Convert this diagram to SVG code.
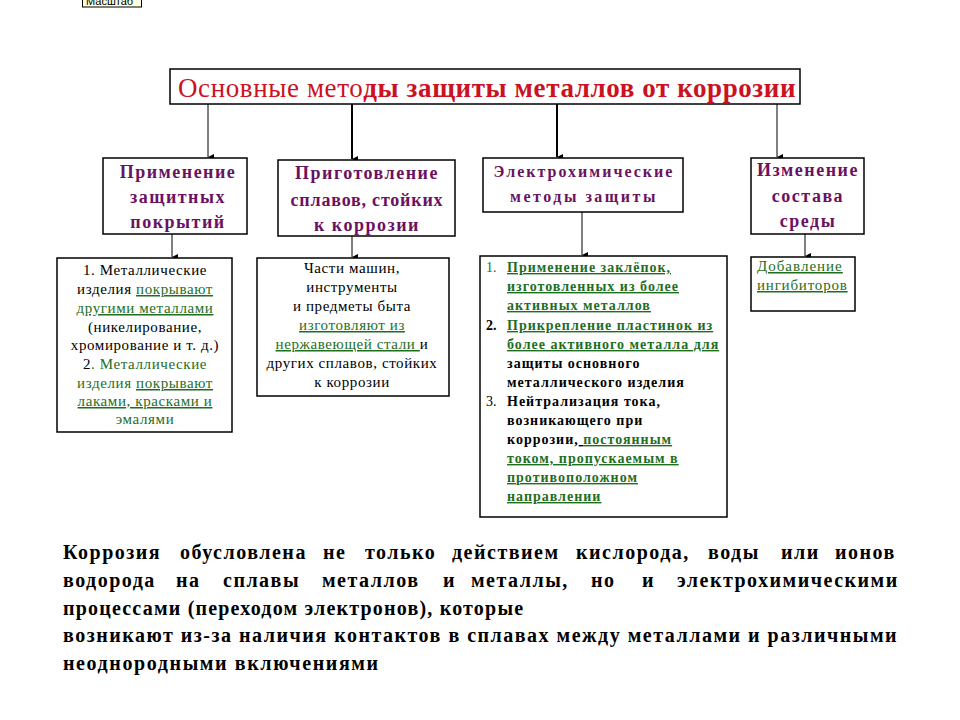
<svg xmlns="http://www.w3.org/2000/svg" width="960" height="720" viewBox="0 0 960 720">
<defs>
<marker id="ah" markerUnits="userSpaceOnUse" markerWidth="8" markerHeight="8" refX="4" refY="7" orient="auto" viewBox="0 0 8 8">
<path d="M1,1 L7,1 L4,7 Z" fill="#000"/>
</marker>
</defs>
<rect width="960" height="720" fill="#fff"/>
<g id="tooltip">
<rect x="82.5" y="-10" width="59" height="17" fill="#ffffe1" stroke="#000" stroke-width="1"/>
<text x="86" y="5" font-size="11" style="font-family:'Liberation Sans',sans-serif">Масштаб</text>
</g>
<g id="connectors" stroke="#000" fill="none">
<line x1="208" y1="104" x2="208" y2="157" stroke-width="1" marker-end="url(#ah)"/>
<line x1="352" y1="104" x2="352" y2="159" stroke-width="2" marker-end="url(#ah)"/>
<line x1="557" y1="104" x2="557" y2="157" stroke-width="2" marker-end="url(#ah)"/>
<line x1="777" y1="104" x2="777" y2="157" stroke-width="1" marker-end="url(#ah)"/>
<line x1="172" y1="234" x2="172" y2="257" stroke-width="1" marker-end="url(#ah)"/>
<line x1="352" y1="236" x2="352" y2="257" stroke-width="1" marker-end="url(#ah)"/>
<line x1="582" y1="212" x2="582" y2="255" stroke-width="1" marker-end="url(#ah)"/>
<line x1="805" y1="234" x2="805" y2="256" stroke-width="1" marker-end="url(#ah)"/>
</g>
<g id="title">
<rect x="170" y="69" width="630" height="35" fill="#fff" stroke="#000" stroke-width="1.5"/>
<text style="font-family:'Liberation Serif',serif" x="178" y="97" font-size="27" letter-spacing="0.6" fill="#cc1122">Основные мето<tspan font-weight="bold">ды защиты металлов от коррозии</tspan></text>
</g>
<g id="m1">
<rect x="103" y="158" width="144" height="76" fill="#fff" stroke="#000" stroke-width="1.5"/>
<text style="font-family:'Liberation Serif',serif" font-weight="bold" font-size="18" fill="#6a1262" letter-spacing="1.5" text-anchor="middle" x="178" y="178">Применение</text>
<text style="font-family:'Liberation Serif',serif" font-weight="bold" font-size="18" fill="#6a1262" letter-spacing="1.5" text-anchor="middle" x="178" y="203">защитных</text>
<text style="font-family:'Liberation Serif',serif" font-weight="bold" font-size="18" fill="#6a1262" letter-spacing="1.5" text-anchor="middle" x="178" y="228">покрытий</text>
</g>
<g id="m2">
<rect x="278" y="160" width="177" height="76" fill="#fff" stroke="#000" stroke-width="1.5"/>
<text style="font-family:'Liberation Serif',serif" font-weight="bold" font-size="18" fill="#6a1262" letter-spacing="1.5" text-anchor="middle" x="367" y="179">Приготовление</text>
<text style="font-family:'Liberation Serif',serif" font-weight="bold" font-size="18" fill="#6a1262" letter-spacing="0.8" text-anchor="middle" x="367" y="206">сплавов, стойких</text>
<text style="font-family:'Liberation Serif',serif" font-weight="bold" font-size="18" fill="#6a1262" letter-spacing="1.5" text-anchor="middle" x="367" y="231">к коррозии</text>
</g>
<g id="m3">
<rect x="483" y="158" width="200" height="54" fill="#fff" stroke="#000" stroke-width="1.5"/>
<text style="font-family:'Liberation Serif',serif" font-weight="bold" font-size="16" fill="#6a1262" letter-spacing="2" text-anchor="middle" x="584" y="177">Электрохимические</text>
<text style="font-family:'Liberation Serif',serif" font-weight="bold" font-size="16" fill="#6a1262" letter-spacing="2.5" text-anchor="middle" x="584" y="202">методы защиты</text>
</g>
<g id="m4">
<rect x="751" y="158" width="113" height="76" fill="#fff" stroke="#000" stroke-width="1.5"/>
<text style="font-family:'Liberation Serif',serif" font-weight="bold" font-size="18" fill="#6a1262" letter-spacing="1.5" text-anchor="middle" x="808" y="176">Изменение</text>
<text style="font-family:'Liberation Serif',serif" font-weight="bold" font-size="18" fill="#6a1262" letter-spacing="1.5" text-anchor="middle" x="808" y="202">состава</text>
<text style="font-family:'Liberation Serif',serif" font-weight="bold" font-size="18" fill="#6a1262" letter-spacing="1.5" text-anchor="middle" x="808" y="227">среды</text>
</g>
<g id="d1">
<rect x="57" y="258" width="175" height="174" fill="#fff" stroke="#000" stroke-width="1.5"/>
<text style="font-family:'Liberation Serif',serif" font-size="15" letter-spacing="0.6" text-anchor="middle" fill="#000" x="145" y="275">1. Металлические</text>
<text style="font-family:'Liberation Serif',serif" font-size="15" letter-spacing="0.6" text-anchor="middle" fill="#000" x="145" y="294">изделия <tspan fill="#1e6e1e" text-decoration="underline">покрывают</tspan></text>
<text style="font-family:'Liberation Serif',serif" font-size="15" letter-spacing="0.6" text-anchor="middle" fill="#1e6e1e" text-decoration="underline" x="145" y="313">другими металлами</text>
<text style="font-family:'Liberation Serif',serif" font-size="15" letter-spacing="0.6" text-anchor="middle" fill="#000" x="145" y="332">(никелирование,</text>
<text style="font-family:'Liberation Serif',serif" font-size="15" letter-spacing="0.6" text-anchor="middle" fill="#000" x="145" y="350">хромирование и т. д.)</text>
<text style="font-family:'Liberation Serif',serif" font-size="15" letter-spacing="0.6" text-anchor="middle" fill="#1e6e1e" x="145" y="369"><tspan fill="#000">2</tspan>. Металлические</text>
<text style="font-family:'Liberation Serif',serif" font-size="15" letter-spacing="0.6" text-anchor="middle" fill="#1e6e1e" x="145" y="388">изделия <tspan text-decoration="underline">покрывают</tspan></text>
<text style="font-family:'Liberation Serif',serif" font-size="15" letter-spacing="0.6" text-anchor="middle" fill="#1e6e1e" text-decoration="underline" x="145" y="406">лаками, красками и</text>
<text style="font-family:'Liberation Serif',serif" font-size="15" letter-spacing="0.6" text-anchor="middle" fill="#1e6e1e" x="145" y="424">эмалями</text>
</g>
<g id="d2">
<rect x="257" y="258" width="192" height="138" fill="#fff" stroke="#000" stroke-width="1.5"/>
<text style="font-family:'Liberation Serif',serif" font-size="15" letter-spacing="0.6" text-anchor="middle" fill="#000" x="352" y="273">Части машин,</text>
<text style="font-family:'Liberation Serif',serif" font-size="15" letter-spacing="0.6" text-anchor="middle" fill="#000" x="352" y="292">инструменты</text>
<text style="font-family:'Liberation Serif',serif" font-size="15" letter-spacing="0.6" text-anchor="middle" fill="#000" x="352" y="311">и предметы быта</text>
<text style="font-family:'Liberation Serif',serif" font-size="15" letter-spacing="0.6" text-anchor="middle" fill="#1e6e1e" text-decoration="underline" x="352" y="330">изготовляют из</text>
<text style="font-family:'Liberation Serif',serif" font-size="15" letter-spacing="0.6" text-anchor="middle" fill="#000" x="352" y="349"><tspan fill="#1e6e1e" text-decoration="underline">нержавеющей стали </tspan>и</text>
<text style="font-family:'Liberation Serif',serif" font-size="15" letter-spacing="0.6" text-anchor="middle" fill="#000" x="352" y="368">других сплавов, стойких</text>
<text style="font-family:'Liberation Serif',serif" font-size="15" letter-spacing="0.6" text-anchor="middle" fill="#000" x="352" y="387">к коррозии</text>
</g>
<g id="d3">
<rect x="480" y="256" width="247" height="261" fill="#fff" stroke="#000" stroke-width="1.5"/>
<text style="font-family:'Liberation Serif',serif" font-size="14" fill="#1e6e1e" x="486" y="272">1.</text>
<text style="font-family:'Liberation Serif',serif" font-size="14" font-weight="bold" letter-spacing="1" fill="#1e6e1e" text-decoration="underline" x="507" y="272">Применение заклёпок,</text>
<text style="font-family:'Liberation Serif',serif" font-size="14" font-weight="bold" letter-spacing="1" fill="#1e6e1e" text-decoration="underline" x="507" y="291">изготовленных из более</text>
<text style="font-family:'Liberation Serif',serif" font-size="14" font-weight="bold" letter-spacing="1" fill="#1e6e1e" text-decoration="underline" x="507" y="310">активных  металлов</text>
<text style="font-family:'Liberation Serif',serif" font-size="14" font-weight="bold" fill="#000" x="486" y="330">2.</text>
<text style="font-family:'Liberation Serif',serif" font-size="14" font-weight="bold" letter-spacing="1" fill="#1e6e1e" text-decoration="underline" x="507" y="330">Прикрепление пластинок из</text>
<text style="font-family:'Liberation Serif',serif" font-size="14" font-weight="bold" letter-spacing="1" fill="#1e6e1e" text-decoration="underline" x="507" y="349">более активного металла для</text>
<text style="font-family:'Liberation Serif',serif" font-size="14" font-weight="bold" letter-spacing="1" fill="#000" x="507" y="368">защиты основного</text>
<text style="font-family:'Liberation Serif',serif" font-size="14" font-weight="bold" letter-spacing="1" fill="#000" x="507" y="387">металлического изделия</text>
<text style="font-family:'Liberation Serif',serif" font-size="14" fill="#000" x="486" y="406">3.</text>
<text style="font-family:'Liberation Serif',serif" font-size="14" font-weight="bold" letter-spacing="1" fill="#000" x="507" y="406">Нейтрализация тока,</text>
<text style="font-family:'Liberation Serif',serif" font-size="14" font-weight="bold" letter-spacing="1" fill="#000" x="507" y="425">возникающего при</text>
<text style="font-family:'Liberation Serif',serif" font-size="14" font-weight="bold" letter-spacing="1" fill="#000" x="507" y="444">коррозии,<tspan text-decoration="underline"> </tspan><tspan fill="#1e6e1e" text-decoration="underline">постоянным</tspan></text>
<text style="font-family:'Liberation Serif',serif" font-size="14" font-weight="bold" letter-spacing="1" fill="#1e6e1e" text-decoration="underline" x="507" y="463">током, пропускаемым в</text>
<text style="font-family:'Liberation Serif',serif" font-size="14" font-weight="bold" letter-spacing="1" fill="#1e6e1e" text-decoration="underline" x="507" y="482">противоположном</text>
<text style="font-family:'Liberation Serif',serif" font-size="14" font-weight="bold" letter-spacing="1" fill="#1e6e1e" text-decoration="underline" x="507" y="501">направлении</text>
</g>
<g id="d4">
<rect x="751" y="257" width="104" height="54" fill="#fff" stroke="#000" stroke-width="1.5"/>
<text style="font-family:'Liberation Serif',serif" font-size="15" letter-spacing="1" fill="#1e6e1e" text-decoration="underline" x="757" y="271">Добавление</text>
<text style="font-family:'Liberation Serif',serif" font-size="15" letter-spacing="0.8" fill="#1e6e1e" text-decoration="underline" x="757" y="290">ингибиторов</text>
</g>
<g id="paragraph">
<text style="font-family:'Liberation Serif',serif" font-weight="bold" font-size="20" letter-spacing="1.5" fill="#000" x="63" y="559">Коррозия</text>
<text style="font-family:'Liberation Serif',serif" font-weight="bold" font-size="20" letter-spacing="1.5" fill="#000" x="180" y="559">обусловлена</text>
<text style="font-family:'Liberation Serif',serif" font-weight="bold" font-size="20" letter-spacing="1.5" fill="#000" x="323" y="559">не</text>
<text style="font-family:'Liberation Serif',serif" font-weight="bold" font-size="20" letter-spacing="1.5" fill="#000" x="365" y="559">только</text>
<text style="font-family:'Liberation Serif',serif" font-weight="bold" font-size="20" letter-spacing="1.5" fill="#000" x="452" y="559">действием</text>
<text style="font-family:'Liberation Serif',serif" font-weight="bold" font-size="20" letter-spacing="1.5" fill="#000" x="576" y="559">кислорода,</text>
<text style="font-family:'Liberation Serif',serif" font-weight="bold" font-size="20" letter-spacing="1.5" fill="#000" x="708" y="559">воды</text>
<text style="font-family:'Liberation Serif',serif" font-weight="bold" font-size="20" letter-spacing="1.5" fill="#000" x="781" y="559">или</text>
<text style="font-family:'Liberation Serif',serif" font-weight="bold" font-size="20" letter-spacing="1.5" fill="#000" x="835" y="559">ионов</text>
<text style="font-family:'Liberation Serif',serif" font-weight="bold" font-size="20" letter-spacing="1.5" fill="#000" x="63" y="587">водорода</text>
<text style="font-family:'Liberation Serif',serif" font-weight="bold" font-size="20" letter-spacing="1.5" fill="#000" x="176" y="587">на</text>
<text style="font-family:'Liberation Serif',serif" font-weight="bold" font-size="20" letter-spacing="1.5" fill="#000" x="223" y="587">сплавы</text>
<text style="font-family:'Liberation Serif',serif" font-weight="bold" font-size="20" letter-spacing="1.5" fill="#000" x="322" y="587">металлов</text>
<text style="font-family:'Liberation Serif',serif" font-weight="bold" font-size="20" letter-spacing="1.5" fill="#000" x="443" y="587">и</text>
<text style="font-family:'Liberation Serif',serif" font-weight="bold" font-size="20" letter-spacing="1.5" fill="#000" x="471" y="587">металлы,</text>
<text style="font-family:'Liberation Serif',serif" font-weight="bold" font-size="20" letter-spacing="1.5" fill="#000" x="591" y="587">но</text>
<text style="font-family:'Liberation Serif',serif" font-weight="bold" font-size="20" letter-spacing="1.5" fill="#000" x="642" y="587">и</text>
<text style="font-family:'Liberation Serif',serif" font-weight="bold" font-size="20" letter-spacing="1.5" fill="#000" x="677" y="587">электрохимическими</text>
<text style="font-family:'Liberation Serif',serif" font-weight="bold" font-size="20" letter-spacing="1.2" fill="#000" x="63" y="615">процессами (переходом электронов), которые</text>
<text style="font-family:'Liberation Serif',serif" font-weight="bold" font-size="20" letter-spacing="1.5" fill="#000" x="63" y="642">возникают из-за наличия контактов в сплавах между металлами и различными</text>
<text style="font-family:'Liberation Serif',serif" font-weight="bold" font-size="20" letter-spacing="1.6" fill="#000" x="63" y="670">неоднородными включениями</text>
</g>
</svg>
